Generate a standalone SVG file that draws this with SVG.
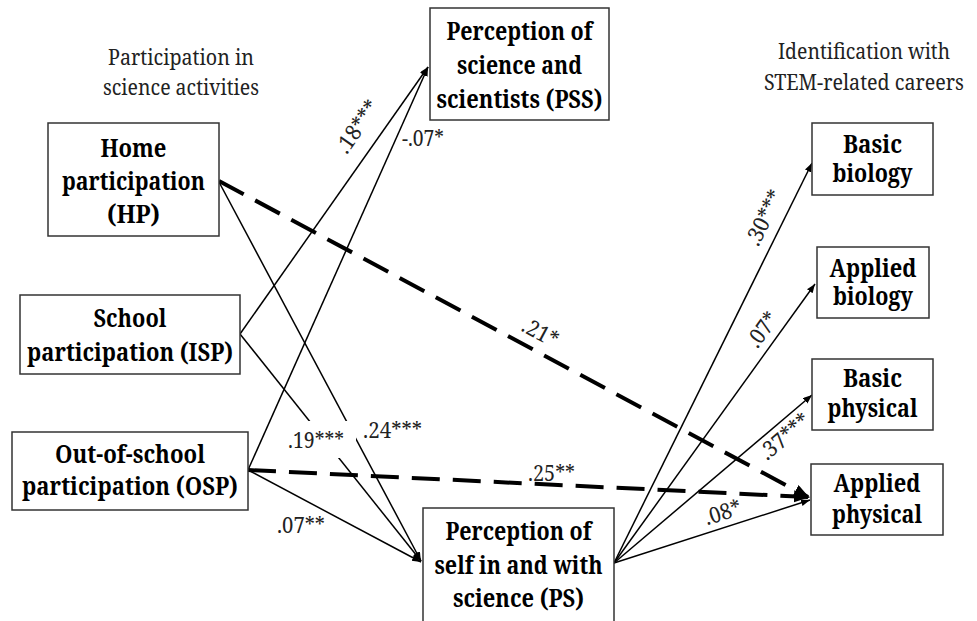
<svg xmlns="http://www.w3.org/2000/svg" width="977" height="621" viewBox="0 0 977 621">
<style>
.box{fill:#fff;stroke:#333;stroke-width:1.5}
text{font-family:"Noto Serif","DejaVu Serif",serif}
.nt{font-weight:bold;font-size:26px;fill:#000;text-anchor:middle}
.hd{font-size:22px;fill:#222;text-anchor:middle}
.el{font-size:22px;fill:#222}
.elm{font-size:22px;fill:#222;text-anchor:middle}
.ln{fill:none;stroke:#000;stroke-width:1.5;marker-end:url(#sa)}
.dl{fill:none;stroke:#000;stroke-width:4;stroke-dasharray:28 13;marker-end:url(#ba)}
</style>
<defs>
<marker id="sa" markerUnits="userSpaceOnUse" markerWidth="10" markerHeight="8" refX="9" refY="3.5" orient="auto"><path d="M0,0 L9,3.5 L0,7 z" fill="#000"/></marker>
<marker id="ba" markerUnits="userSpaceOnUse" markerWidth="17" markerHeight="13" refX="14" refY="6" orient="auto"><path d="M0,0 L16,6 L0,12 z" fill="#000"/></marker>
</defs>
<rect width="977" height="621" fill="#fff"/>

<g id="headers">
<text class="hd" x="181" y="65" textLength="146" lengthAdjust="spacingAndGlyphs">Participation in</text>
<text class="hd" x="181" y="95" textLength="156" lengthAdjust="spacingAndGlyphs">science activities</text>
<text class="hd" x="864" y="59" textLength="172" lengthAdjust="spacingAndGlyphs">Identification with</text>
<text class="hd" x="864" y="90" textLength="200" lengthAdjust="spacingAndGlyphs">STEM-related careers</text>
</g>

<g id="connectors">
<path class="ln" d="M219,182 L421,561"/>
<path class="ln" d="M240,334 L428,67"/>
<path class="ln" d="M240,334 L421,561"/>
<path class="ln" d="M248,470 L428,67"/>
<path class="ln" d="M248,470 L421,562"/>
<path class="dl" d="M219,181 L808,497"/>
<path class="dl" d="M248,470 L808,497"/>
<path class="ln" d="M614,563 L812,163"/>
<path class="ln" d="M614,563 L815,284"/>
<path class="ln" d="M614,563 L812,395"/>
<path class="ln" d="M614,563 L810,500"/>
</g>

<g id="edge-labels">
<text class="elm" x="358" y="134" transform="rotate(-55 358 127)" textLength="59" lengthAdjust="spacingAndGlyphs">.18***</text>
<text class="el" x="402" y="146" textLength="42" lengthAdjust="spacingAndGlyphs">-.07*</text>
<rect x="283" y="421" width="73" height="37" fill="#fff"/>
<text class="el" x="288" y="448" textLength="56" lengthAdjust="spacingAndGlyphs">.19***</text>
<text class="el" x="363" y="438" textLength="59" lengthAdjust="spacingAndGlyphs">.24***</text>
<text class="el" x="277" y="533" textLength="48" lengthAdjust="spacingAndGlyphs">.07**</text>
<text class="elm" x="540" y="340" transform="rotate(28 540 333)" textLength="38" lengthAdjust="spacingAndGlyphs">.21*</text>
<text class="el" x="528" y="481" textLength="47" lengthAdjust="spacingAndGlyphs">.25**</text>
<text class="elm" x="765" y="225" transform="rotate(-63.7 765 218)" textLength="59" lengthAdjust="spacingAndGlyphs">.30***</text>
<text class="elm" x="763" y="337" transform="rotate(-54 763 330)" textLength="38" lengthAdjust="spacingAndGlyphs">.07*</text>
<text class="elm" x="785" y="444" transform="rotate(-40 785 437)" textLength="59" lengthAdjust="spacingAndGlyphs">.37***</text>
<text class="elm" x="723" y="520" transform="rotate(-18 723 513)" textLength="38" lengthAdjust="spacingAndGlyphs">.08*</text>
</g>

<g id="HP">
<rect class="box" x="48" y="123" width="171" height="113"/>
<text class="nt" x="133.5" y="157" textLength="66" lengthAdjust="spacingAndGlyphs">Home</text>
<text class="nt" x="133.5" y="190" textLength="143" lengthAdjust="spacingAndGlyphs">participation</text>
<text class="nt" x="133.5" y="223" textLength="53" lengthAdjust="spacingAndGlyphs">(HP)</text>
</g>
<g id="ISP">
<rect class="box" x="20" y="295" width="220" height="79"/>
<text class="nt" x="130" y="327" textLength="73" lengthAdjust="spacingAndGlyphs">School</text>
<text class="nt" x="130" y="361" textLength="206" lengthAdjust="spacingAndGlyphs">participation (ISP)</text>
</g>
<g id="OSP">
<rect class="box" x="12" y="432" width="236" height="78"/>
<text class="nt" x="130" y="463" textLength="150" lengthAdjust="spacingAndGlyphs">Out-of-school</text>
<text class="nt" x="130" y="495" textLength="216" lengthAdjust="spacingAndGlyphs">participation (OSP)</text>
</g>
<g id="PSS">
<rect class="box" x="430" y="8" width="179" height="112"/>
<text class="nt" x="519.5" y="40" textLength="146" lengthAdjust="spacingAndGlyphs">Perception of</text>
<text class="nt" x="519.5" y="74" textLength="125" lengthAdjust="spacingAndGlyphs">science and</text>
<text class="nt" x="519.5" y="108" textLength="166" lengthAdjust="spacingAndGlyphs">scientists (PSS)</text>
</g>
<g id="PS">
<rect class="box" x="423" y="508" width="191" height="120"/>
<text class="nt" x="518.5" y="540" textLength="146" lengthAdjust="spacingAndGlyphs">Perception of</text>
<text class="nt" x="518.5" y="574" textLength="168" lengthAdjust="spacingAndGlyphs">self in and with</text>
<text class="nt" x="518.5" y="607" textLength="131" lengthAdjust="spacingAndGlyphs">science (PS)</text>
</g>
<g id="BasicBiology">
<rect class="box" x="812" y="123" width="121" height="72"/>
<text class="nt" x="872.5" y="153" textLength="59" lengthAdjust="spacingAndGlyphs">Basic</text>
<text class="nt" x="872.5" y="182" textLength="80" lengthAdjust="spacingAndGlyphs">biology</text>
</g>
<g id="AppliedBiology">
<rect class="box" x="817" y="247" width="112" height="71"/>
<text class="nt" x="873" y="277" textLength="87" lengthAdjust="spacingAndGlyphs">Applied</text>
<text class="nt" x="873" y="305" textLength="80" lengthAdjust="spacingAndGlyphs">biology</text>
</g>
<g id="BasicPhysical">
<rect class="box" x="812" y="359" width="121" height="71"/>
<text class="nt" x="872.5" y="387" textLength="59" lengthAdjust="spacingAndGlyphs">Basic</text>
<text class="nt" x="872.5" y="417" textLength="90" lengthAdjust="spacingAndGlyphs">physical</text>
</g>
<g id="AppliedPhysical">
<rect class="box" x="811" y="464" width="132" height="71"/>
<text class="nt" x="877" y="492" textLength="87" lengthAdjust="spacingAndGlyphs">Applied</text>
<text class="nt" x="877" y="523" textLength="90" lengthAdjust="spacingAndGlyphs">physical</text>
</g>
</svg>
